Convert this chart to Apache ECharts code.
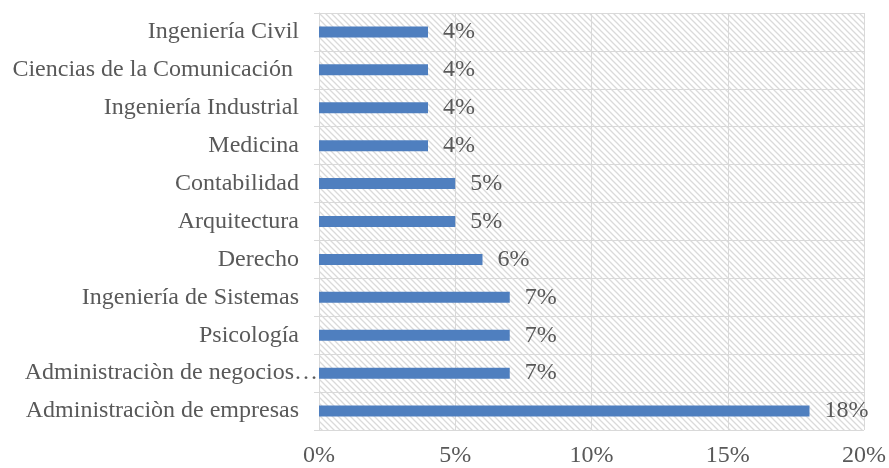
<!DOCTYPE html>
<html>
<head>
<meta charset="utf-8">
<script src="https://cdn.jsdelivr.net/npm/echarts@6/dist/echarts.min.js"></script>
<style>
  html, body { margin: 0; padding: 0; background: #fff; }
  #chart { width: 889px; height: 468px; }
</style>
</head>
<body>
<div id="chart"></div>
<script>
// categories bottom -> top
const carreras = [
  "Administraciòn de empresas",
  "Administraciòn de negocios…",
  "Psicología",
  "Ingeniería de Sistemas",
  "Derecho",
  "Arquitectura",
  "Contabilidad",
  "Medicina",
  "Ingeniería Industrial",
  "Ciencias de la Comunicación ",
  "Ingeniería Civil"
];
const porcentajes = [18, 7, 7, 7, 6, 5, 5, 4, 4, 4, 4];
const xTicks = [0, 5, 10, 15, 20];
// the truncated label sits right up against the axis in the original
const recortada = "Administraciòn de negocios…";

// diagonal hatch for the plot background
const makeHatch = () => {
  const s = 6;
  const c = document.createElement("canvas");
  c.width = s;
  c.height = s;
  const ctx = c.getContext("2d");
  ctx.fillStyle = "#ffffff";
  ctx.fillRect(0, 0, s, s);
  ctx.strokeStyle = "#dadada";
  ctx.lineWidth = 1.3;
  ctx.beginPath();
  ctx.moveTo(-1, -1);
  ctx.lineTo(s + 1, s + 1);
  ctx.moveTo(-1, s - 1);
  ctx.lineTo(1, s + 1);
  ctx.moveTo(s - 1, -1);
  ctx.lineTo(s + 1, 1);
  ctx.stroke();
  return c;
};

const textStyle = { fontFamily: "Liberation Serif", fontSize: 24, color: "#595959" };

const chart = echarts.init(document.getElementById("chart"));
chart.setOption({
  animation: false,
  grid: {
    left: 319,
    right: 25,
    top: 13,
    bottom: 38,
    show: true,
    borderWidth: 0,
    backgroundColor: { image: makeHatch(), repeat: "repeat" },
  },
  xAxis: {
    type: "value",
    min: xTicks[0],
    max: xTicks[xTicks.length - 1],
    interval: 5,
    axisLine: { show: false },
    axisTick: { show: false },
    axisLabel: { ...textStyle, margin: 14, formatter: "{value}%" },
    splitLine: { lineStyle: { color: "#d9d9d9", width: 1 } },
  },
  yAxis: [
    {
      type: "category",
      data: carreras,
      axisLine: { show: true, lineStyle: { color: "#d9d9d9", width: 1 } },
      axisTick: { show: true, length: 5, lineStyle: { color: "#d9d9d9" } },
      axisLabel: {
        ...textStyle,
        margin: 20,
        formatter: (v) => (v === recortada ? "" : v),
      },
      splitLine: { show: true, lineStyle: { color: "#d9d9d9", width: 1 } },
    },
    {
      type: "category",
      data: carreras,
      position: "left",
      offset: -19,
      axisLine: { show: false },
      axisTick: { show: false },
      splitLine: { show: false },
      axisLabel: {
        ...textStyle,
        margin: 20,
        formatter: (v) => (v === recortada ? v : ""),
      },
    },
  ],
  series: [
    {
      type: "bar",
      data: porcentajes,
      barWidth: 11,
      itemStyle: { color: "#4f7fbf" },
      label: {
        show: true,
        position: "right",
        distance: 15,
        ...textStyle,
        formatter: "{c}%",
      },
    },
  ],
});
</script>
</body>
</html>
